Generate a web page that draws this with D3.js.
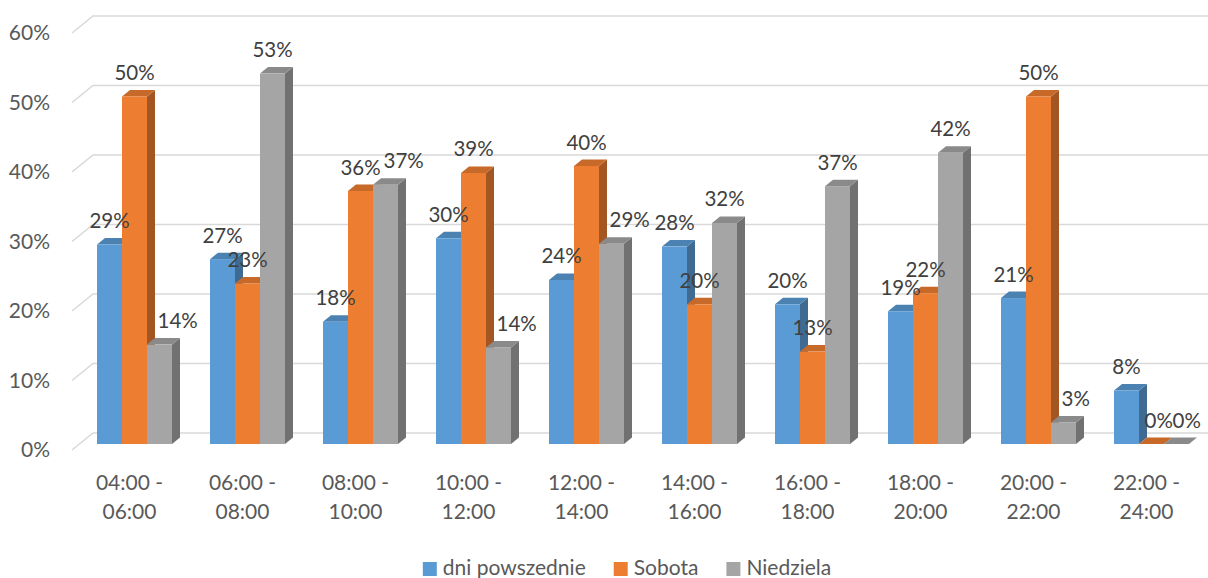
<!DOCTYPE html>
<html>
<head>
<meta charset="utf-8">
<script src="https://cdn.jsdelivr.net/npm/d3@7"></script>
<style>
  html, body { margin: 0; padding: 0; background: #ffffff; }
  svg { display: block; }
  text { font-family: Lato, "Open Sans", sans-serif; }
</style>
</head>
<body>
<svg id="chart" width="1208" height="578"></svg>
<script>
// ---- data ----
const categories = ["04:00 - 06:00", "06:00 - 08:00", "08:00 - 10:00", "10:00 - 12:00", "12:00 - 14:00",
                    "14:00 - 16:00", "16:00 - 18:00", "18:00 - 20:00", "20:00 - 22:00", "22:00 - 24:00"];
const seriesNames = ["dni powszednie", "Sobota", "Niedziela"];
const dniPowszednie = [28.7, 26.6, 17.6, 29.6, 23.6, 28.4, 20.1, 19.1, 21.0, 7.7];
const sobota        = [50.0, 23.1, 36.4, 39.0, 40.0, 20.1, 13.3, 21.7, 50.0, 0];
const niedziela     = [14.3, 53.3, 37.3, 13.9, 28.8, 31.8, 37.1, 41.9, 3.1, 0];
const yTicks = [0, 10, 20, 30, 40, 50, 60];
const colors = ["#5B9BD5", "#ED7D31", "#A5A5A5"];

// ---- layout ----
const svg = d3.select("#chart");
const frontX0 = 72, frontX1 = 1202;
const backDX = 21, backDY = -17;     // back wall offset
const barDX = 6, barDY = -6;         // bar plane offset
const depthDX = 8, depthDY = -6.5;   // bar depth
const barW = 25;
const fs = 20.5;

const x = d3.scaleBand().domain(categories).range([frontX0, frontX1]).paddingInner(0).paddingOuter(0);
const xSub = d3.scaleBand().domain(seriesNames).range([0, barW * 3]);
const y = d3.scaleLinear().domain([0, 60]).range([450, 33]);

const series = seriesNames.map((name, si) => ({
  name, color: colors[si],
  values: [dniPowszednie, sobota, niedziela][si]
}));

// gridlines
const grid = svg.append("g");
yTicks.forEach(t => {
  const yy = y(t);
  grid.append("path")
    .attr("d", `M${frontX0},${yy} L${frontX0 + backDX},${yy + backDY} L1210,${yy + backDY}`)
    .attr("fill", "none").attr("stroke", "#D9D9D9").attr("stroke-width", 1.6);
});

// y tick labels
svg.append("g").selectAll("text").data(yTicks).join("text")
  .attr("x", 50).attr("y", d => y(d)).attr("dy", "0.35em")
  .attr("text-anchor", "end").attr("font-size", fs + 0.5).attr("fill", "#595959")
  .text(d => d + "%");

// bars
const bars = svg.append("g");
const groupPad = (x.bandwidth() - barW * 3) / 2;
const labelData = [];
categories.forEach((c, ci) => {
  series.forEach((s, si) => {
    const v = s.values[ci];
    const x0 = x(c) + barDX + groupPad + xSub(s.name);
    const x1 = x0 + barW;
    const yTop = y(v) + barDY;
    const yBot = y(0) + barDY;
    const base = d3.color(s.color);
    const g = bars.append("g");
    // side face
    g.append("path")
      .attr("d", `M${x1},${yBot} L${x1 + depthDX},${yBot + depthDY} L${x1 + depthDX},${yTop + depthDY} L${x1},${yTop} Z`)
      .attr("fill", base.darker(1.05).formatHex());
    // top face
    g.append("path")
      .attr("d", `M${x0},${yTop} L${x0 + depthDX},${yTop + depthDY} L${x1 + depthDX},${yTop + depthDY} L${x1},${yTop} Z`)
      .attr("fill", base.darker(0.5).formatHex());
    // front face
    g.append("rect")
      .attr("x", x0).attr("y", yTop).attr("width", barW).attr("height", Math.max(0, yBot - yTop))
      .attr("fill", s.color);
    // label placement
    const cx = x0 + barW / 2;
    let lx = cx, anchor = "middle";
    if (v === 0) { lx = cx - (si === 1 ? 7 : 4); anchor = "start"; }
    else if (si === 2 && sobota[ci] >= v - 1) { lx = cx - 2; anchor = "start"; }
    labelData.push({ text: Math.round(v) + "%", x: lx, anchor, y: yTop - 16.5 });
  });
});

// data labels
svg.append("g").selectAll("text").data(labelData).join("text")
  .attr("x", d => d.x).attr("y", d => d.y)
  .attr("text-anchor", d => d.anchor)
  .attr("font-size", fs).attr("fill", "#404040")
  .text(d => d.text);

// category labels
const catG = svg.append("g");
categories.forEach(c => {
  const parts = c.split(" - ");
  const cx = x(c) + x.bandwidth() / 2 + 1;
  const t = catG.append("text").attr("text-anchor", "middle")
    .attr("font-size", fs + 0.5).attr("fill", "#595959");
  t.append("tspan").attr("x", cx).attr("y", 489.5).text(parts[0] + " -");
  t.append("tspan").attr("x", cx).attr("y", 518.5).text(parts[1]);
});

// legend
const leg = svg.append("g");
const items = series.map(s => {
  const g = leg.append("g");
  g.append("rect").attr("x", 0).attr("y", -13).attr("width", 14).attr("height", 14).attr("fill", s.color);
  const tx = g.append("text").attr("x", 20).attr("y", 0).attr("font-size", fs + 0.5).attr("fill", "#595959").text(s.name);
  return { g, w: 20 + tx.node().getComputedTextLength() };
});
const gap = 28;
const total = d3.sum(items, d => d.w) + gap * (items.length - 1);
let lxx = 627 - total / 2;
items.forEach(it => {
  it.g.attr("transform", `translate(${lxx},575)`);
  lxx += it.w + gap;
});
</script>
</body>
</html>
